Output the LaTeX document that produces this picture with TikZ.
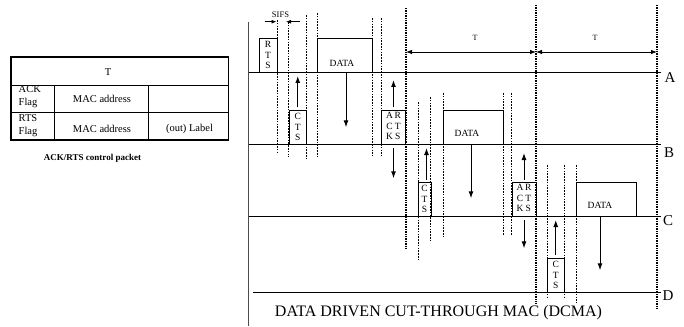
\documentclass[tikz,border=0pt]{standalone}
\usepackage{fontspec}
\setmainfont{Liberation Serif}
\usetikzlibrary{arrows.meta}

\begin{document}
\begin{tikzpicture}[
  x=1pt, y=-1pt,
  pkt/.style={draw, line width=0.6pt, inner sep=0pt, align=center, font=\fontsize{9.5}{10.5}\selectfont},
  dtxt/.style={font=\fontsize{9.5}{11}\selectfont, inner sep=0pt},
  slot/.style={line width=0.7pt, dash pattern=on 1.6pt off 1.2pt},
  frameline/.style={line width=1.3pt, dash pattern=on 1pt off 0.7pt},
  lane/.style={line width=0.7pt},
  msg/.style={line width=1pt, -{Latex[length=7pt, width=5pt]}},
  spanarrow/.style={line width=0.8pt, {Latex[length=6pt, width=4.5pt]}-{Latex[length=6pt, width=4.5pt]}},
  lanelbl/.style={font=\fontsize{15}{17}\selectfont, inner sep=0pt},
  tbl/.style={font=\fontsize{10.5}{13}\selectfont, inner sep=0pt, align=left}
]
  \useasboundingbox (0,0) rectangle (684,326);

  % Control packet table
  \draw[line width=1.2pt] (11,57) rectangle (228.5,140);
  \draw[line width=0.8pt] (11,85) -- (228.5,85);
  \draw[line width=0.8pt] (11,112.5) -- (228.5,112.5);
  \draw[line width=0.8pt] (54.5,85) -- (54.5,140);
  \draw[line width=0.8pt] (148.5,85) -- (148.5,140);
  \node[tbl] (tT) at (108,72.5) {T};
  \node[tbl, anchor=west] (ackf) at (18.5,97) {ACK\\Flag};
  \node[tbl] (mac1) at (102,99) {MAC address};
  \node[tbl, anchor=west] (rtsf) at (18.5,125.5) {RTS\\Flag};
  \node[tbl] (mac2) at (102,128.5) {MAC address};
  \node[tbl] (outl) at (189.5,128.5) {(out) Label};
  \node[font=\fontsize{9}{11}\selectfont\bfseries, inner sep=0pt] (cap) at (92.5,158) {ACK/RTS control packet};

  % Station lanes
  \coordinate (A0) at (248.5,72);  \coordinate (A1) at (661,72);
  \coordinate (B0) at (248.5,144); \coordinate (B1) at (661,144);
  \coordinate (C0) at (248.5,216); \coordinate (C1) at (661,216);
  \coordinate (D0) at (253,292);   \coordinate (D1) at (661,292);
  \draw[line width=1pt, gray!60!black] (248.5,22) -- (248.5,326);
  \draw[lane] (A0) -- (A1);
  \draw[lane] (B0) -- (B1);
  \draw[lane] (C0) -- (C1);
  \draw[lane] (D0) -- (D1);
  \node[lanelbl] (lA) at (670,78) {A};
  \node[lanelbl] (lB) at (669,153) {B};
  \node[lanelbl] (lC) at (668,221) {C};
  \node[lanelbl] (lD) at (668,296) {D};

  % Frame boundaries
  \draw[frameline] (406,8) -- (406,248);
  \draw[frameline] (536,5) -- (536,303);
  \draw[frameline] (657,5) -- (657,308);
  \coordinate (t1) at (406,52);
  \coordinate (t2) at (536,52);
  \coordinate (t3) at (657,52);
  \draw[spanarrow] (t1) -- (t2);
  \draw[spanarrow] (t2) -- (t3);
  \node[font=\fontsize{8}{9}\selectfont, inner sep=0pt] (T1) at (475,38) {T};
  \node[font=\fontsize{8}{9}\selectfont, inner sep=0pt] (T2) at (595,38) {T};

  % Slot boundaries
  \draw[slot] (277,20) -- (277,152);
  \draw[slot] (288,22) -- (288,157);
  \draw[slot] (306.5,15) -- (306.5,160);
  \draw[slot] (317.5,13) -- (317.5,158);
  \draw[slot] (372.5,18) -- (372.5,156);
  \draw[slot] (381,18) -- (381,156);
  \draw[slot] (418,102) -- (418,260);
  \draw[slot] (430.5,97) -- (430.5,240);
  \draw[slot] (443,93) -- (443,236);
  \draw[slot] (503,93) -- (503,235);
  \draw[slot] (511.5,93) -- (511.5,235);
  \draw[slot] (547,165) -- (547,297);
  \draw[slot] (564.5,165) -- (564.5,297);
  \draw[slot] (576,165) -- (576,303);

  % SIFS
  \node[font=\fontsize{8.5}{10}\selectfont, inner sep=0pt] (sifs) at (280.5,15) {SIFS};
  \coordinate (s1) at (276.5,21.7);
  \coordinate (s2) at (286,21.7);
  \draw[line width=0.8pt, -{Latex[length=5pt, width=4pt]}] ([xshift=-12pt]s1) -- (s1);
  \draw[line width=0.8pt, -{Latex[length=5pt, width=4pt]}] ([xshift=14pt]s2) -- (s2);

  % Packets
  \node[pkt, minimum width=18pt, minimum height=33.5pt] (rts1) at (268,55.25) {R\\T\\S};
  \node[pkt, minimum width=55pt, minimum height=33.5pt,
        label={[dtxt, xshift=-3pt, yshift=-7.75pt]center:DATA}] (data1) at (345,55.25) {};
  \node[pkt, minimum width=17.5pt, minimum height=34pt] (cts1) at (297.75,127) {C\\T\\S};
  \node[pkt, minimum width=24pt, minimum height=34pt] (ark1) at (393.5,127)
    {\begin{tabular}{@{}c@{\hspace{1.5pt}}c@{}}A&R\\C&T\\K&S\end{tabular}};
  \node[pkt, minimum width=60pt, minimum height=34pt,
        label={[dtxt, xshift=-6pt, yshift=-6pt]center:DATA}] (data2) at (473,127) {};
  \node[pkt, minimum width=13pt, minimum height=34pt] (cts2) at (424.5,199) {C\\T\\S};
  \node[pkt, minimum width=24pt, minimum height=34pt] (ark2) at (524,199)
    {\begin{tabular}{@{}c@{\hspace{1.5pt}}c@{}}A&R\\C&T\\K&S\end{tabular}};
  \node[pkt, minimum width=60pt, minimum height=34pt,
        label={[dtxt, xshift=-6pt, yshift=-6pt]center:DATA}] (data3) at (606,199) {};
  \node[pkt, minimum width=17.5pt, minimum height=34pt] (cts3) at (555.75,275) {C\\T\\S};

  % Transmissions
  \draw[msg] ([yshift=3pt]cts1.north) -- ([yshift=-4pt]cts1.north |- A0);
  \draw[msg] ([xshift=1pt]data1.south) -- ++(0,55);
  \draw[msg] ([yshift=3pt]ark1.north) -- ([yshift=-8pt]ark1.north |- A0);
  \draw[msg] ([yshift=-4pt]ark1.south) -- ++(0,30);
  \draw[msg] ([xshift=2pt, yshift=2pt]cts2.north) -- ([xshift=2pt, yshift=-4pt]cts2.north |- B0);
  \draw[msg] ([xshift=-2pt]data2.south) -- ++(0,54);
  \draw[msg] ([yshift=2pt]ark2.north) -- ([yshift=-9pt]ark2.north |- B0);
  \draw[msg] ([yshift=-4pt]ark2.south) -- ++(0,28);
  \draw[msg] ([yshift=3pt]cts3.north) -- ([yshift=-4pt]cts3.north |- C0);
  \draw[msg] ([xshift=-6pt]data3.south) -- ++(0,54);

  \node[font=\fontsize{16}{18}\selectfont, inner sep=0pt] (title) at (438.5,313) {DATA DRIVEN CUT-THROUGH MAC (DCMA)};
\end{tikzpicture}
\end{document}
